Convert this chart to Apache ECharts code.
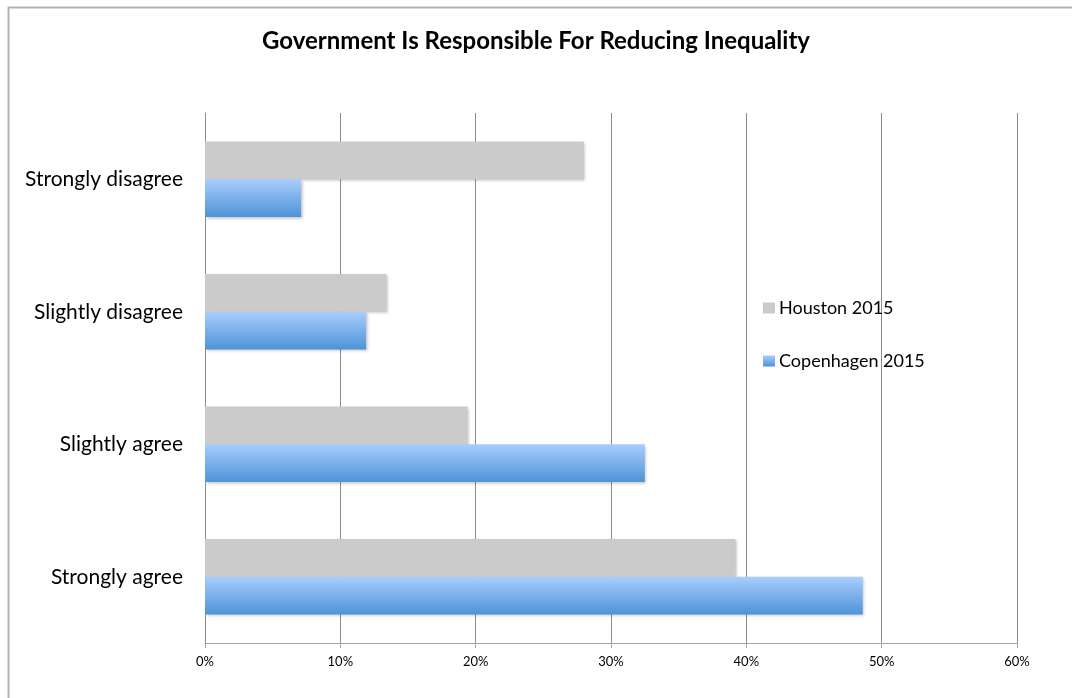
<!DOCTYPE html>
<html>
<head>
<meta charset="utf-8">
<script src="https://cdn.jsdelivr.net/npm/echarts@6/dist/echarts.min.js"></script>
<style>
  html, body { margin: 0; padding: 0; background: #fff; }
  #chart { width: 1072px; height: 698px; }
</style>
</head>
<body>
<div id="chart"></div>
<script>
// Survey answers, listed bottom to top along the category axis
const categories = ['Strongly agree', 'Slightly agree', 'Slightly disagree', 'Strongly disagree'];
// Share of respondents (%) per answer
const houston2015 = [39.2, 19.4, 13.4, 28.0];
const copenhagen2015 = [48.6, 32.5, 11.9, 7.1];
const seriesNames = ['Houston 2015', 'Copenhagen 2015'];
const titleText = 'Government Is Responsible For Reducing Inequality';

const FONT = 'Lato, "Open Sans", sans-serif';

const chart = echarts.init(document.getElementById('chart'));

const blueGradient = new echarts.graphic.LinearGradient(0, 0, 0, 1, [
  { offset: 0, color: '#a9cdfd' },
  { offset: 1, color: '#4e93d8' }
]);

const barShadow = {
  shadowColor: 'rgba(0,0,0,0.25)', shadowBlur: 3, shadowOffsetX: 1.5, shadowOffsetY: 1.5
};

chart.setOption({
  animation: false,
  backgroundColor: '#ffffff',
  graphic: [{
    type: 'rect',
    left: 6, top: 5,
    shape: { width: 1200, height: 900 },
    style: { fill: 'none', stroke: '#b3b3b3', lineWidth: 2 },
    silent: true
  }],
  title: {
    text: titleText,
    left: 'center',
    top: 24,
    textStyle: { fontFamily: FONT, fontSize: 24, fontWeight: 'bold', color: '#000' }
  },
  legend: {
    orient: 'vertical',
    left: 758,
    top: 294,
    itemGap: 35,
    itemWidth: 12,
    itemHeight: 11,
    data: [
      { name: seriesNames[0], icon: 'rect' },
      { name: seriesNames[1], icon: 'rect' }
    ],
    textStyle: { fontFamily: FONT, fontSize: 18, color: '#000', padding: [0, 0, 0, -1] }
  },
  grid: { left: 205, right: 55, top: 113, bottom: 55, containLabel: false },
  xAxis: {
    type: 'value',
    min: 0, max: 60, interval: 10,
    axisLabel: { formatter: '{value}%', fontFamily: FONT, fontSize: 13, color: '#000', margin: 12 },
    axisLine: { show: true, lineStyle: { color: '#a6a6a6', width: 1 } },
    axisTick: { show: true, length: 5, lineStyle: { color: '#a6a6a6' } },
    splitLine: { show: true, lineStyle: { color: '#8c8c8c', width: 1 } }
  },
  yAxis: {
    type: 'category',
    data: categories,
    axisLabel: { fontFamily: FONT, fontSize: 21, color: '#000', margin: 22, padding: [6, 0, 0, 0] },
    axisLine: { show: true, lineStyle: { color: '#8c8c8c', width: 1 } },
    axisTick: { show: false },
    splitLine: { show: false }
  },
  series: [
    {
      name: seriesNames[0],
      type: 'bar',
      data: houston2015,
      barGap: '0%',
      barCategoryGap: '43%',
      itemStyle: Object.assign({ color: '#cbcbcb' }, barShadow)
    },
    {
      name: seriesNames[1],
      type: 'bar',
      data: copenhagen2015,
      barGap: '0%',
      barCategoryGap: '43%',
      itemStyle: Object.assign({ color: blueGradient }, barShadow)
    }
  ]
});
</script>
</body>
</html>
